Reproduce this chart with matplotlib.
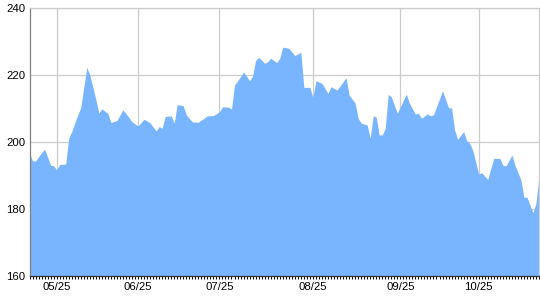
import matplotlib.pyplot as plt

# trading-day index and closing price (vertices of the area)
day = [0, 1, 2, 4, 5, 7, 8, 9, 10, 12, 13, 14, 16, 17, 19, 20, 22, 23, 24, 26,
       27, 29, 31, 32, 34, 36, 38, 40, 42, 43, 44, 45, 47, 48, 49, 51, 52, 53, 54, 56,
       59, 61, 63, 64, 66, 67, 68, 70, 71, 73, 74, 75, 76, 78, 79, 80, 82, 83, 84, 86,
       88, 90, 91, 93, 94, 95, 97, 99, 100, 102, 103, 105, 106, 108, 109, 110, 112, 113, 114, 115,
       116, 117, 118, 119, 120, 122, 125, 126, 128, 129, 130, 132, 133, 134, 137, 139, 140, 141, 142, 144,
       145, 146, 147, 149, 150, 152, 153, 154, 156, 157, 158, 160, 161, 163, 164, 165, 166, 167, 168, 169]
price = [196.6, 194.4, 194.3, 196.8, 197.9, 193.1, 192.9, 191.7, 193.3, 193.4,
         201.1, 203.1, 208.1, 210.2, 222.3, 220.0, 212.7, 208.6, 209.9, 208.5,
         205.8, 206.4, 209.6, 208.5, 206.0, 204.8, 206.8, 205.7, 203.3, 204.6,
         204.1, 207.6, 207.8, 205.6, 211.2, 210.8, 208.1, 207.0, 206.0, 205.9,
         207.8, 207.9, 209.0, 210.5, 210.4, 209.8, 217.0, 219.5, 220.9, 218.3,
         219.7, 224.3, 225.3, 223.5, 224.0, 225.0, 223.7, 225.0, 228.3, 228.0,
         225.8, 226.8, 216.3, 216.3, 213.3, 218.3, 217.5, 214.5, 216.5, 215.5,
         216.7, 219.2, 214.0, 211.6, 207.1, 205.6, 205.1, 201.1, 207.8, 207.4,
         202.1, 202.1, 204.1, 214.2, 213.5, 208.6, 214.3, 211.6, 208.3, 208.6,
         207.1, 208.4, 207.8, 208.1, 215.3, 210.2, 210.2, 203.6, 200.8, 203.1,
         200.4, 199.6, 197.6, 190.4, 190.8, 188.8, 192.1, 195.1, 195.1, 193.1,
         192.8, 196.1, 193.1, 188.7, 183.5, 183.5, 181.2, 178.9, 181.7, 190.0]

label_days = [9, 36, 63, 94, 123, 149]
labels = ['05/25', '06/25', '07/25', '08/25', '09/25', '10/25']
yticks = [160, 180, 200, 220, 240]

plt.rcParams['font.family'] = ['Liberation Sans', 'DejaVu Sans']

fig = plt.figure(figsize=(5.4, 3.0), dpi=100)
ax = fig.add_axes([29.5 / 540, 1 - 276 / 300, (539 - 29.5) / 540, 268 / 300])

ax.fill_between(day, price, 160, color='#79B4FF', lw=0, zorder=2)

ax.set_xlim(0, 169)
ax.set_ylim(160, 240)
ax.set_yticks(yticks)
ax.set_xticks(label_days)
ax.set_xticklabels(labels)
ax.set_xticks(range(0, 170), minor=True)

ax.set_axisbelow(True)
ax.grid(True, color='#CCCCCC', lw=0.9)
ax.grid(False, which='minor')

ax.tick_params(axis='y', length=0, pad=3, labelsize=8.2, colors='black')
ax.tick_params(axis='x', which='both', direction='out', length=2.2, width=0.7,
               color='black', pad=2, labelsize=8.2)

for side in ['top', 'right']:
    ax.spines[side].set_color('#CCCCCC')
    ax.spines[side].set_linewidth(0.9)
ax.spines['left'].set_color('#808080')
ax.spines['left'].set_linewidth(0.9)
ax.spines['bottom'].set_color('#333333')
ax.spines['bottom'].set_linewidth(0.9)

fig.savefig('out.png', dpi=100)
